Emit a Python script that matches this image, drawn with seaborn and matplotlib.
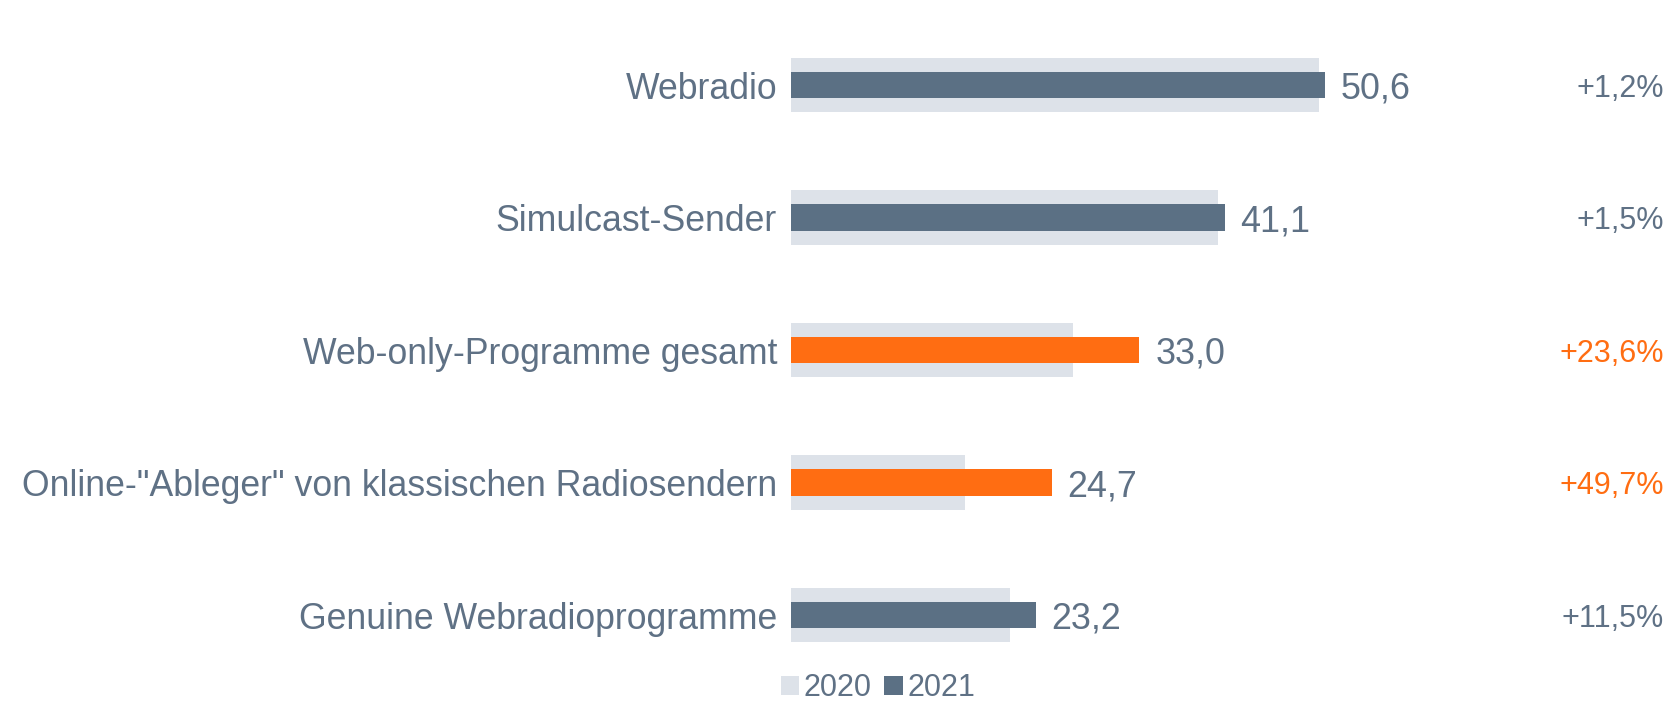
import matplotlib
matplotlib.use("Agg")
import matplotlib.pyplot as plt
import matplotlib.transforms as mtransforms
from matplotlib.patches import Patch
import seaborn as sns
import pandas as pd

categories = ["Webradio", "Simulcast-Sender", "Web-only-Programme gesamt",
              "Online-\"Ableger\" von klassischen Radiosendern", "Genuine Webradioprogramme"]
values_2020 = [50.0, 40.5, 26.7, 16.5, 20.8]
values_2021 = [50.6, 41.1, 33.0, 24.7, 23.2]
value_labels = ["50,6", "41,1", "33,0", "24,7", "23,2"]
change_labels = ["+1,2%", "+1,5%", "+23,6%", "+49,7%", "+11,5%"]
highlight = [False, False, True, True, False]

DARK = "#5b7084"
LIGHT = "#dde2e9"
ORANGE = "#ff6d12"
TEXT = "#5f7185"

sns.set_theme(style="white")
plt.rcParams["font.family"] = ["Liberation Sans", "DejaVu Sans"]

df = pd.DataFrame({"cat": categories, "v2020": values_2020, "v2021": values_2021})
colors_2021 = [ORANGE if h else DARK for h in highlight]

fig = plt.figure(figsize=(16.71, 7.01), dpi=100)
ax = fig.add_axes([791 / 1671, 0.028, 633 / 1671, 662.5 / 701])

sns.barplot(data=df, y="cat", x="v2020", color=LIGHT, width=0.41, ax=ax,
            orient="h", saturation=1, linewidth=0)
sns.barplot(data=df, y="cat", x="v2021", hue="cat", palette=colors_2021, width=0.2,
            ax=ax, orient="h", saturation=1, legend=False, linewidth=0)

ax.set_xlim(0, 60)
ax.set_ylim(4.5, -0.5)
ax.set_xlabel("")
ax.set_ylabel("")
ax.set_xticks([])
ax.tick_params(axis="y", length=0, pad=10, labelsize=25.7, labelcolor=TEXT)
for lbl in ax.get_yticklabels():
    lbl.set_verticalalignment("center_baseline")
for s in ax.spines.values():
    s.set_visible(False)

for i, (v, lab) in enumerate(zip(values_2021, value_labels)):
    ax.annotate(lab, (v, i), xytext=(11.5, 0), textcoords="offset points",
                va="center_baseline", ha="left", fontsize=25.8, color=TEXT)

trans = mtransforms.blended_transform_factory(fig.transFigure, ax.transData)
for i, (lab, h) in enumerate(zip(change_labels, highlight)):
    ax.text(1664 / 1671, i, lab, transform=trans, ha="right", va="center_baseline",
            fontsize=22, color=ORANGE if h else TEXT, clip_on=False)

handles = [Patch(facecolor=LIGHT, edgecolor="none", label="2020"),
           Patch(facecolor=DARK, edgecolor="none", label="2021")]
fig.legend(handles=handles, loc="center", bbox_to_anchor=(878 / 1671, 1 - 688 / 701),
           ncol=2, frameon=False, handlelength=0.6, handleheight=0.6,
           handletextpad=0.15, columnspacing=0.4, fontsize=22, labelcolor=TEXT)

fig.savefig("out.png", dpi=100)
